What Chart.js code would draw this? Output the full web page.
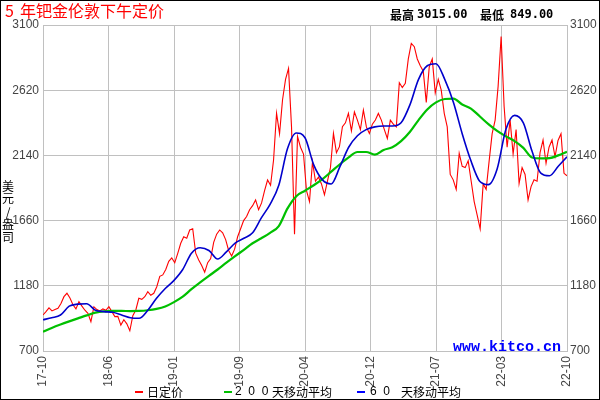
<!DOCTYPE html>
<html><head><meta charset="utf-8">
<script src="https://cdn.jsdelivr.net/npm/chart.js@4.4.0/dist/chart.umd.min.js"></script>
<style>html,body{margin:0;padding:0;background:#fff;}canvas{display:block;}</style>
</head><body>
<canvas id="c" width="600" height="400"></canvas>
<script>
// ---- data ----
const xTickLabels = ['17-10','18-06','19-01','19-09','20-04','20-12','21-07','22-03','22-10'];
const yMin = 700, yMax = 3100, yStep = 480;
const totalMonths = 60;
const dailyFix = [
 965, 990, 1017, 995, 1005, 1015, 1050, 1100, 1125, 1090,
 1040, 1010, 1063, 1030, 1000, 978, 916, 1026, 1005, 995,
 1010, 1000, 1026, 990, 953, 955, 891, 930, 900, 849,
 960, 1002, 1088, 1080, 1100, 1137, 1110, 1125, 1173, 1250,
 1260, 1300, 1360, 1385, 1350, 1419, 1493, 1541, 1530, 1591,
 1600, 1420, 1370, 1330, 1280, 1350, 1380, 1500, 1560, 1591,
 1570, 1520, 1440, 1400, 1450, 1541, 1600, 1660, 1690, 1740,
 1770, 1812, 1740, 1790, 1880, 1959, 1920, 2106, 2450, 2300,
 2550, 2700, 2780, 2350, 1560, 2280, 2200, 2150, 1880, 1800,
 2094, 1950, 1980, 1930, 1850, 1950, 2050, 2302, 2160, 2204,
 2351, 2380, 2449, 2320, 2460, 2400, 2330, 2474, 2350, 2302,
 2370, 2400, 2449, 2400, 2330, 2265, 2400, 2370, 2350, 2675,
 2640, 2670, 2850, 2965, 2940, 2850, 2800, 2760, 2530, 2793,
 2850, 2600, 2700, 2620, 2450, 2350, 2000, 1960, 1890, 2155,
 2060, 2050, 2100, 1950, 1800, 1700, 1600, 1930, 1890, 2100,
 2300, 2400, 2650, 3015, 2500, 2200, 2400, 2150, 2330, 1934,
 2050, 2000, 1812, 1910, 1960, 1950, 2160, 2253, 2082, 2200,
 2253, 2130, 2250, 2300, 2008, 1990
];
const ma200 = [
 842, 870, 895, 918, 940, 962, 982, 992, 995, 995,
 994, 995, 1000, 1010, 1028, 1060, 1100, 1155, 1205, 1253,
 1300, 1350, 1398, 1445, 1493, 1530, 1570, 1620, 1750, 1840,
 1880, 1920, 1965, 2020, 2075, 2125, 2165, 2165, 2145, 2180,
 2200, 2245, 2312, 2400, 2478, 2530, 2555, 2558, 2515, 2485,
 2428, 2370, 2320, 2280, 2245, 2195, 2125, 2118, 2120, 2140,
 2167
];
const ma60 = [
 930, 945, 965, 1030, 1045, 1048, 1000, 990, 985, 965,
 945, 941, 1000, 1088, 1160, 1220, 1300, 1420, 1460, 1440,
 1377, 1430, 1495, 1530, 1570, 1680, 1780, 1920, 2190, 2305,
 2270, 2070, 1960, 1930, 2057, 2200, 2285, 2330, 2350, 2356,
 2356, 2380, 2510, 2700, 2800, 2815, 2700, 2530, 2300, 2100,
 1950, 1925, 2040, 2330, 2435, 2380, 2170, 2010, 1990, 2060,
 2130
];

const toPoints = arr => arr.map((v, i) => ({ x: i * totalMonths / (arr.length - 1), y: v }));

const decor = {
  id: 'decor',
  afterDraw(chart) {
    const ctx = chart.ctx;
    ctx.save();
    ctx.textBaseline = 'middle';
    // title
    ctx.fillStyle = '#ff0000';
    ctx.font = "16px 'Noto Sans CJK SC'";
    ctx.textAlign = 'left';
    ctx.fillText('5', 5, 11);
    ctx.fillText('年钯金伦敦下午定价', 20, 11);
    // high / low
    ctx.fillStyle = '#000';
    ctx.font = "bold 12px 'Noto Sans CJK SC'";
    ctx.fillText('最高', 390, 15);
    ctx.fillText('最低', 480, 15);
    ctx.font = "bold 12px 'DejaVu Sans Mono'";
    ctx.fillText('3015.00', 417, 15);
    ctx.fillText('849.00', 510, 15);
    // vertical unit label
    ctx.font = "12px 'Noto Sans CJK SC'";
    ctx.textAlign = 'center';
    const unit = ['美','元','/','盎','司'];
    const ys = [186, 198, 212, 224.5, 237];
    unit.forEach((ch, k) => ctx.fillText(ch, 8, ys[k]));
    // watermark
    ctx.fillStyle = '#0000ff';
    ctx.font = "bold 15px 'Liberation Mono'";
    ctx.textAlign = 'left';
    ctx.fillText('www.kitco.cn', 453, 347);
    // legend
    const ly = 392;
    ctx.font = "12px 'Noto Sans CJK SC'";
    ctx.fillStyle = '#ff0000'; ctx.fillRect(135, ly - 1, 8, 2);
    ctx.fillStyle = '#000'; ctx.fillText('日定价', 147, ly);
    ctx.fillStyle = '#00c000'; ctx.fillRect(224, ly - 1, 8, 2);
    ctx.fillStyle = '#000';
    ctx.font = "12px 'Liberation Sans'"; ctx.fillText('2  0  0', 235, ly);
    ctx.font = "12px 'Noto Sans CJK SC'"; ctx.fillText('天移动平均', 272, ly);
    ctx.fillStyle = '#0000ff'; ctx.fillRect(357, ly - 1, 8, 2);
    ctx.fillStyle = '#000';
    ctx.font = "12px 'Liberation Sans'"; ctx.fillText('6  0', 370, ly);
    ctx.font = "12px 'Noto Sans CJK SC'"; ctx.fillText('天移动平均', 401, ly);
    // outer frame
    ctx.strokeStyle = '#000'; ctx.lineWidth = 1;
    ctx.strokeRect(0.5, 0.5, 599, 399);
    ctx.restore();
  }
};

const tickFont = { family: "'Liberation Sans'", size: 12 };
const plainNum = v => String(v);
new Chart(document.getElementById('c'), {
  type: 'line',
  data: {
    datasets: [
      { label: '6 0 天移动平均', data: toPoints(ma60), borderColor: '#0000cc', borderWidth: 1.6, pointRadius: 0, cubicInterpolationMode: 'monotone', order: 1 },
      { label: '2 0 0 天移动平均', data: toPoints(ma200), borderColor: '#00c000', borderWidth: 2.2, pointRadius: 0, cubicInterpolationMode: 'monotone', order: 2 },
      { label: '日定价', data: toPoints(dailyFix), borderColor: '#ff0000', borderWidth: 1.1, pointRadius: 0, tension: 0, order: 3 }
    ]
  },
  options: {
    responsive: false,
    animation: false,
    layout: { padding: { top: 25, left: 0, right: 0, bottom: 0 } },
    plugins: { legend: { display: false }, tooltip: { enabled: false } },
    scales: {
      x: {
        type: 'linear', min: 0, max: totalMonths,
        ticks: { stepSize: totalMonths / 8, autoSkip: false, minRotation: 90, maxRotation: 90, padding: 5, color: '#444', font: tickFont,
                 callback: v => xTickLabels[Math.round(v / (totalMonths / 8))] ?? '' },
        grid: { color: '#c0c0c0', drawTicks: false },
        border: { color: '#c0c0c0' },
        afterFit: s => { s.height = 49; }
      },
      y: {
        position: 'left', min: yMin, max: yMax,
        ticks: { stepSize: yStep, padding: 4, color: '#444', font: tickFont, callback: plainNum },
        grid: { color: '#c0c0c0', drawTicks: false },
        border: { color: '#c0c0c0' },
        afterFit: s => { s.width = 43; }
      },
      y2: {
        position: 'right', min: yMin, max: yMax,
        ticks: { stepSize: yStep, padding: 3, color: '#444', font: tickFont, callback: plainNum },
        grid: { drawOnChartArea: false, drawTicks: false },
        border: { color: '#c0c0c0' },
        afterFit: s => { s.width = 33; }
      }
    }
  },
  plugins: [decor]
});
</script>
</body></html>
